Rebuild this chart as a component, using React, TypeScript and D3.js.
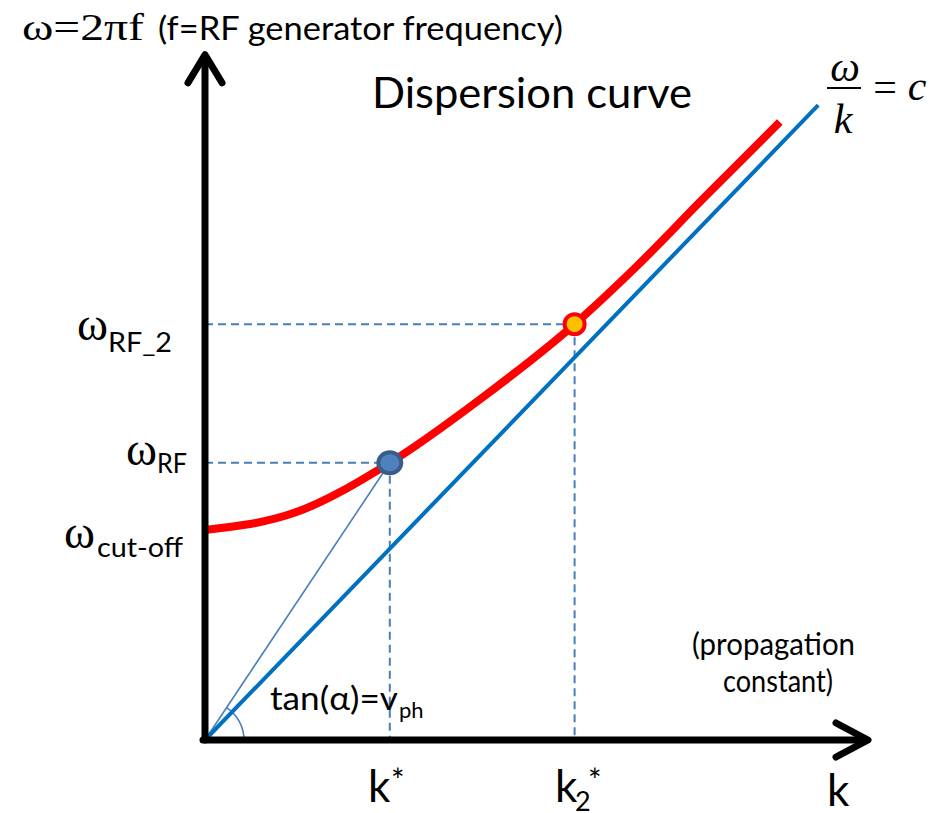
import * as d3 from "d3";

const width = 952;
const height = 813;

// dispersion curve (red)
const kCurve = [0, 15, 30.8, 46, 61.6, 72, 83, 95.8];
const omegaCurve = [35, 37.9, 46.2, 56.9, 69.3, 79.0, 90.2, 103];

// light line w/k = c
const kLight = [0, 102.2];
const omegaLight = [0, 105.8];

// marked operating points
const kPoints = [30.8, 61.6];
const omegaPoints = [46.2, 69.3];

const kAxisMax = 110.5;
const omegaAxisMax = 114.2;

const sans = "Lato, 'Open Sans', sans-serif";
const serif = "'Liberation Serif', 'DejaVu Serif', serif";
const dashBlue = "#4a7ebb";

export default function App() {
  const x = d3.scaleLinear().domain([0, 100]).range([205, 805]);
  const y = d3.scaleLinear().domain([0, 100]).range([740, 140]);

  const curve = d3
    .line<number>()
    .x((d, i) => x(kCurve[i]))
    .y((d) => y(d))
    .curve(d3.curveMonotoneX);
  const light = d3
    .line<number>()
    .x((d, i) => x(kLight[i]))
    .y((d) => y(d));

  const x0 = x(0);
  const y0 = y(0);
  const xEnd = x(kAxisMax);
  const yEnd = y(omegaAxisMax);

  // angle arc between k axis and the phase-velocity line
  const ang = Math.atan2(y0 - y(omegaPoints[0]), x(kPoints[0]) - x0);
  const r = 39;
  const arc = `M${x0 + r},${y0} A${r},${r} 0 0 0 ${x0 + r * Math.cos(ang)},${y0 - r * Math.sin(ang)}`;

  return (
    <svg
      width={width}
      height={height}
      style={{ position: "absolute", left: 0, top: 0, background: "#fff" }}
    >
      {/* dashed guides */}
      {kPoints.map((k, i) => (
        <g key={i} stroke={dashBlue} strokeWidth={2} strokeDasharray="8 5" fill="none">
          <line x1={x0} x2={x(k)} y1={y(omegaPoints[i])} y2={y(omegaPoints[i])} />
          <line x1={x(k)} x2={x(k)} y1={y(omegaPoints[i])} y2={y0} />
        </g>
      ))}

      {/* phase velocity line and angle */}
      <line x1={x0} y1={y0} x2={x(kPoints[0])} y2={y(omegaPoints[0])} stroke={dashBlue} strokeWidth={1.6} />
      <path d={arc} fill="none" stroke={dashBlue} strokeWidth={1.6} />

      <path d={light(omegaLight) || ""} fill="none" stroke="#0070c0" strokeWidth={4} />
      <path d={curve(omegaCurve) || ""} fill="none" stroke="#ff0000" strokeWidth={8} />

      <ellipse cx={x(kPoints[0])} cy={y(omegaPoints[0])} rx={11.5} ry={10.5} fill="#4f81bd" stroke="#385d8a" strokeWidth={4} />
      <circle cx={x(kPoints[1])} cy={y(omegaPoints[1])} r={10} fill="#ffc000" stroke="#ff0000" strokeWidth={4} />

      {/* axes */}
      <g stroke="#000" strokeWidth={7} fill="none" strokeLinecap="round" strokeLinejoin="round">
        <line x1={x0} y1={y0} x2={x0} y2={yEnd + 3} />
        <line x1={x0 - 2} y1={y0} x2={xEnd - 3} y2={y0} />
        <polyline points={`${x0 - 17},${yEnd + 28} ${x0},${yEnd} ${x0 + 17},${yEnd + 28}`} />
        <polyline points={`${xEnd - 32},${y0 - 17} ${xEnd},${y0} ${xEnd - 32},${y0 + 17}`} />
      </g>

      {/* titles */}
      <text x={22} y={40} fontFamily={serif} fontSize={38} textLength={122} lengthAdjust="spacingAndGlyphs">ω=2πf</text>
      <text x={158} y={40} fontFamily={sans} fontSize={33} textLength={405} lengthAdjust="spacingAndGlyphs">(f=RF generator frequency)</text>
      <text x={372} y={108} fontFamily={sans} fontSize={42} textLength={320} lengthAdjust="spacingAndGlyphs">Dispersion curve</text>

      {/* w/k = c */}
      <g fontFamily={serif} fontStyle="italic" fontSize={42}>
        <text x={845} y={81} textAnchor="middle">ω</text>
        <line x1={827} x2={861} y1={88} y2={88} stroke="#000" strokeWidth={2} />
        <text x={843} y={133} textAnchor="middle">k</text>
        <text x={885} y={101} textAnchor="middle" fontStyle="normal">=</text>
        <text x={917} y={100} textAnchor="middle">c</text>
      </g>

      {/* omega labels */}
      <text x={77} y={340} fontFamily={serif} fontSize={46} textLength={31} lengthAdjust="spacingAndGlyphs">ω</text>
      <text x={108} y={352} fontFamily={sans} fontSize={27} textLength={64} lengthAdjust="spacingAndGlyphs">RF_2</text>
      <text x={126} y={465} fontFamily={serif} fontSize={46} textLength={31} lengthAdjust="spacingAndGlyphs">ω</text>
      <text x={157} y={473} fontFamily={sans} fontSize={27} textLength={30} lengthAdjust="spacingAndGlyphs">RF</text>
      <text x={64} y={548} fontFamily={serif} fontSize={46} textLength={31} lengthAdjust="spacingAndGlyphs">ω</text>
      <text x={97} y={557} fontFamily={sans} fontSize={27} textLength={86} lengthAdjust="spacingAndGlyphs">cut-off</text>

      <text x={270} y={710} fontFamily={sans} fontSize={33} textLength={128} lengthAdjust="spacingAndGlyphs">tan(α)=v</text>
      <text x={399} y={718} fontFamily={sans} fontSize={22}>ph</text>

      <text x={692} y={655} fontFamily={sans} fontSize={30} textLength={163} lengthAdjust="spacingAndGlyphs">(propagation</text>
      <text x={723} y={692} fontFamily={sans} fontSize={30} textLength={110} lengthAdjust="spacingAndGlyphs">constant)</text>

      {/* k labels */}
      <text x={827} y={806} fontFamily={sans} fontSize={44}>k</text>
      <text x={368} y={802} fontFamily={sans} fontSize={44}>k</text>
      <text x={391} y={792} fontFamily={sans} fontSize={32}>*</text>
      <text x={555} y={802} fontFamily={sans} fontSize={44}>k</text>
      <text x={575} y={811} fontFamily={sans} fontSize={27}>2</text>
      <text x={588} y={792} fontFamily={sans} fontSize={32}>*</text>
    </svg>
  );
}
